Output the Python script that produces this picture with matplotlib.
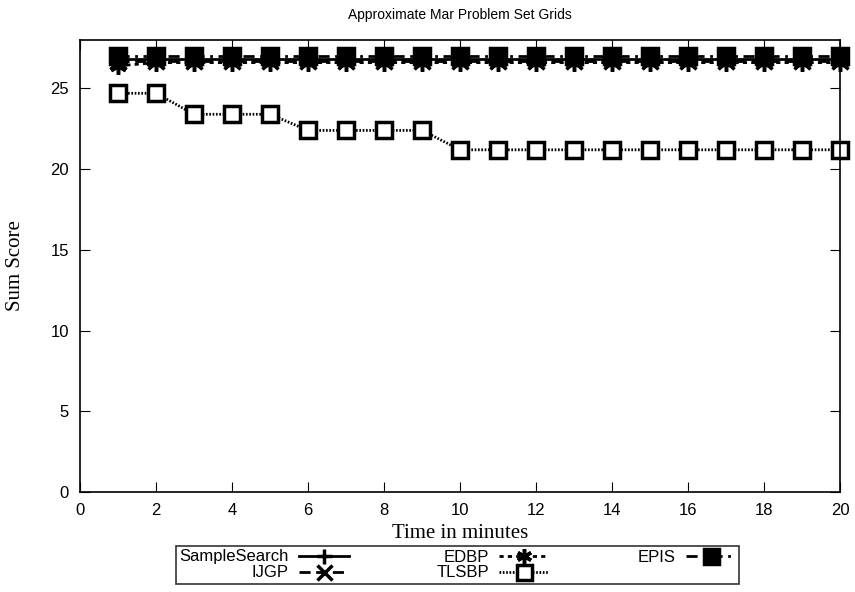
import matplotlib.pyplot as plt

# Data
minutes = list(range(1, 21))
samplesearch = [26.8] * 20
ijgp = [26.7] * 20
edbp = [26.4] + [26.6] * 19
tlsbp = [24.7, 24.7, 23.4, 23.4, 23.4, 22.4, 22.4, 22.4, 22.4] + [21.2] * 11
epis = [27.0] * 20

series = [
    ('SampleSearch', samplesearch, '-', '+'),
    ('IJGP', ijgp, (0, (4, 2)), 'x'),
    ('EDBP', edbp, (0, (1.5, 1.5)), (6, 2, 0)),
    ('TLSBP', tlsbp, (0, (0.6, 0.6)), 's'),
    ('EPIS', epis, (0, (4, 2, 1, 2)), 's'),
]

fig = plt.figure(figsize=(8.55, 5.92), dpi=100)
ax = fig.add_axes([0.0936, 0.1689, 0.889, 0.7635])

for name, vals, ls, mk in series:
    face = 'none'
    if name == 'EPIS':
        face = 'black'
    if name == 'TLSBP':
        face = 'white'
    ax.plot(minutes, vals, linestyle=ls, color='black', linewidth=2,
            marker=mk, markersize=12, markeredgewidth=2.5,
            markerfacecolor=face, markeredgecolor='black', label=name,
            clip_on=False)

ax.set_xlim(0, 20)
ax.set_ylim(0, 28)
ax.set_xticks(range(0, 21, 2))
ax.set_yticks(range(0, 30, 5))
ax.tick_params(direction='in', top=True, right=True, length=7,
               labelsize=12, pad=8)
for lbl in ax.get_xticklabels() + ax.get_yticklabels():
    lbl.set_family('Liberation Sans')
for sp in ax.spines.values():
    sp.set_linewidth(1.2)

ax.set_title('Approximate Mar Problem Set Grids', fontsize=10,
             family='Liberation Sans', pad=15)
ax.set_xlabel('Time in minutes', fontsize=15, family='Liberation Serif', labelpad=4)
ax.set_ylabel('Sum Score', fontsize=15, family='Liberation Serif', labelpad=18)

leg = fig.legend(loc='lower center', bbox_to_anchor=(0.535, 0.0), ncol=3,
                 markerfirst=False, frameon=True, fancybox=False,
                 edgecolor='black',
                 prop={'family': 'Liberation Sans', 'size': 12},
                 handlelength=3, columnspacing=5.3, labelspacing=0.05,
                 borderpad=0.2, handletextpad=0.6, markerscale=0.9)
leg.get_frame().set_linewidth(1.2)

fig.savefig('out.png', dpi=100)
